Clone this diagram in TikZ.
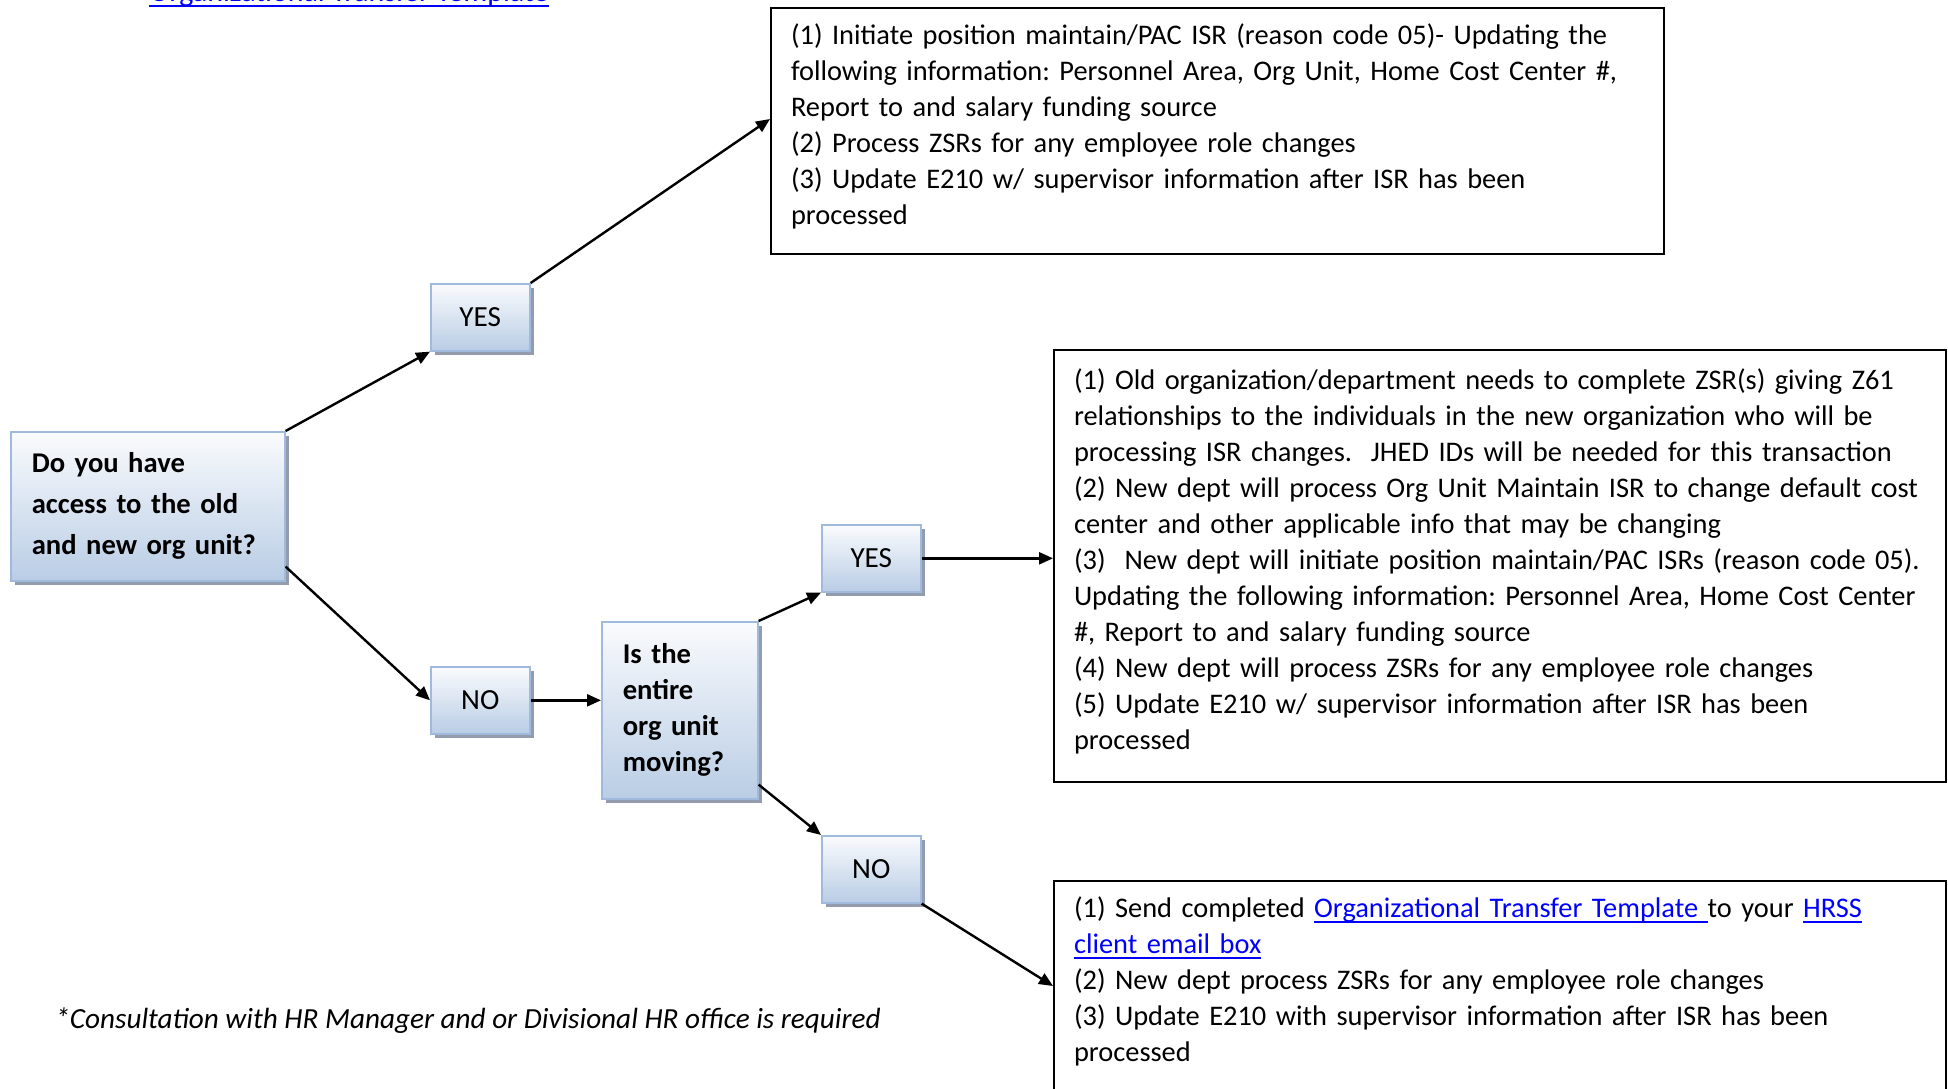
\documentclass[tikz,border=0pt]{standalone}
\usepackage{fontspec}
\setmainfont{Carlito}
\usetikzlibrary{arrows.meta,shadows}

\definecolor{boxline}{RGB}{160,186,222}
\definecolor{boxtop}{RGB}{250,251,253}
\definecolor{boxbottom}{RGB}{185,205,229}
\definecolor{boxshadow}{RGB}{146,156,172}
\definecolor{linkblue}{RGB}{0,0,255}

\frenchspacing
\newsavebox{\linkbox}
\newcommand{\weblink}[1]{\leavevmode{\color{linkblue}\sbox{\linkbox}{#1}%
  \rlap{\rule[-2.8pt]{\wd\linkbox}{0.9pt}}\usebox{\linkbox}}}
\newcommand{\notefont}{\fontsize{14.2pt}{18pt}\selectfont}
\newcommand{\labelfont}{\fontsize{14.6pt}{18pt}\selectfont}

\tikzset{
  choice/.style={draw=boxline, line width=0.8pt, top color=boxtop, bottom color=boxbottom,
    drop shadow={shadow xshift=2pt, shadow yshift=-2pt, fill=boxshadow, opacity=1},
    anchor=north west, inner sep=0pt},
  answer/.style={choice, font=\labelfont, minimum width=49.5pt, minimum height=33.5pt},
  question/.style={choice, align=left, inner xsep=10.5pt},
  note/.style={draw, line width=1pt, anchor=north west, align=left, inner xsep=10pt,
    inner ysep=0pt, font=\notefont, execute at end node={\par\kern5pt}},
  flow/.style={-{Triangle[length=7pt,width=6pt]}, line width=1.2pt}
}

\begin{document}
\begin{tikzpicture}[x=0.5pt,y=-0.5pt]
\useasboundingbox (0,0) rectangle (1948,1088);

% link cut off at the top
\node[anchor=base west, inner sep=0pt, font=\fontsize{15pt}{18pt}\selectfont] (toplink) at (149,1)
  {\weblink{Organizational Transfer Template}};

% questions
\node[question, text width=116pt, minimum height=74.5pt,
  font=\fontsize{14.3pt}{20.5pt}\selectfont\bfseries] (access) at (10,431)
  {Do you have\\access to the old\\and new org unit?};
\node[question, text width=57pt, minimum height=88.5pt,
  font=\fontsize{14.3pt}{18pt}\selectfont\bfseries] (moving) at (601,621)
  {Is the\\entire\\org unit\\moving?};

% answers
\node[answer] (yesaccess) at (430,283) {YES};
\node[answer] (noaccess) at (430,666) {NO};
\node[answer] (yesmove) at (821,524) {YES};
\node[answer] (nomove) at (821,835) {NO};

% actions
\node[note, text width=426.5pt, minimum height=123pt] (stepsaccess) at (770,7)
  {(1) Initiate position maintain/PAC ISR (reason code 05)- Updating the\\
   following information: Personnel Area, Org Unit, Home Cost Center \#,\\
   Report to and salary funding source\\
   (2) Process ZSRs for any employee role changes\\
   (3) Update E210 w/ supervisor information after ISR has been\\
   processed};
\node[note, text width=426pt, minimum height=216pt] (stepsmove) at (1053,349)
  {(1) Old organization/department needs to complete ZSR(s) giving Z61\\
   relationships to the individuals in the new organization who will be\\
   processing ISR changes.\ \ JHED IDs will be needed for this transaction\\
   (2) New dept will process Org Unit Maintain ISR to change default cost\\
   center and other applicable info that may be changing\\
   (3)\ \ New dept will initiate position maintain/PAC ISRs (reason code 05).\\
   Updating the following information: Personnel Area, Home Cost Center\\
   \#, Report to and salary funding source\\
   (4) New dept will process ZSRs for any employee role changes\\
   (5) Update E210 w/ supervisor information after ISR has been\\
   processed};
\node[note, text width=426pt, minimum height=105pt] (stepspartial) at (1053,880)
  {(1) Send completed \weblink{Organizational Transfer Template }to your \weblink{HRSS}\\
   \weblink{client email box}\\
   (2) New dept process ZSRs for any employee role changes\\
   (3) Update E210 with supervisor information after ISR has been\\
   processed};

\node[anchor=west, inner sep=0pt, font=\labelfont\itshape] (footnote) at (55,1021)
  {*Consultation with HR Manager and or Divisional HR office is required};

% connectors
\draw[flow] (access.north east) -- (yesaccess.south west);
\draw[flow] ([yshift=7.5pt]access.south east) -- (noaccess.west);
\draw[flow] (yesaccess.north east) -- ([yshift=6pt]stepsaccess.west);
\draw[flow] (noaccess.east) -- (noaccess.east -| moving.west);
\draw[flow] (moving.north east) -- (yesmove.south west);
\draw[flow] ([yshift=7.5pt]moving.south east) -- (nomove.north west);
\draw[flow] (yesmove.east) -- (yesmove.east -| stepsmove.west);
\draw[flow] (nomove.south east) -- (stepspartial.west);
\end{tikzpicture}
\end{document}
